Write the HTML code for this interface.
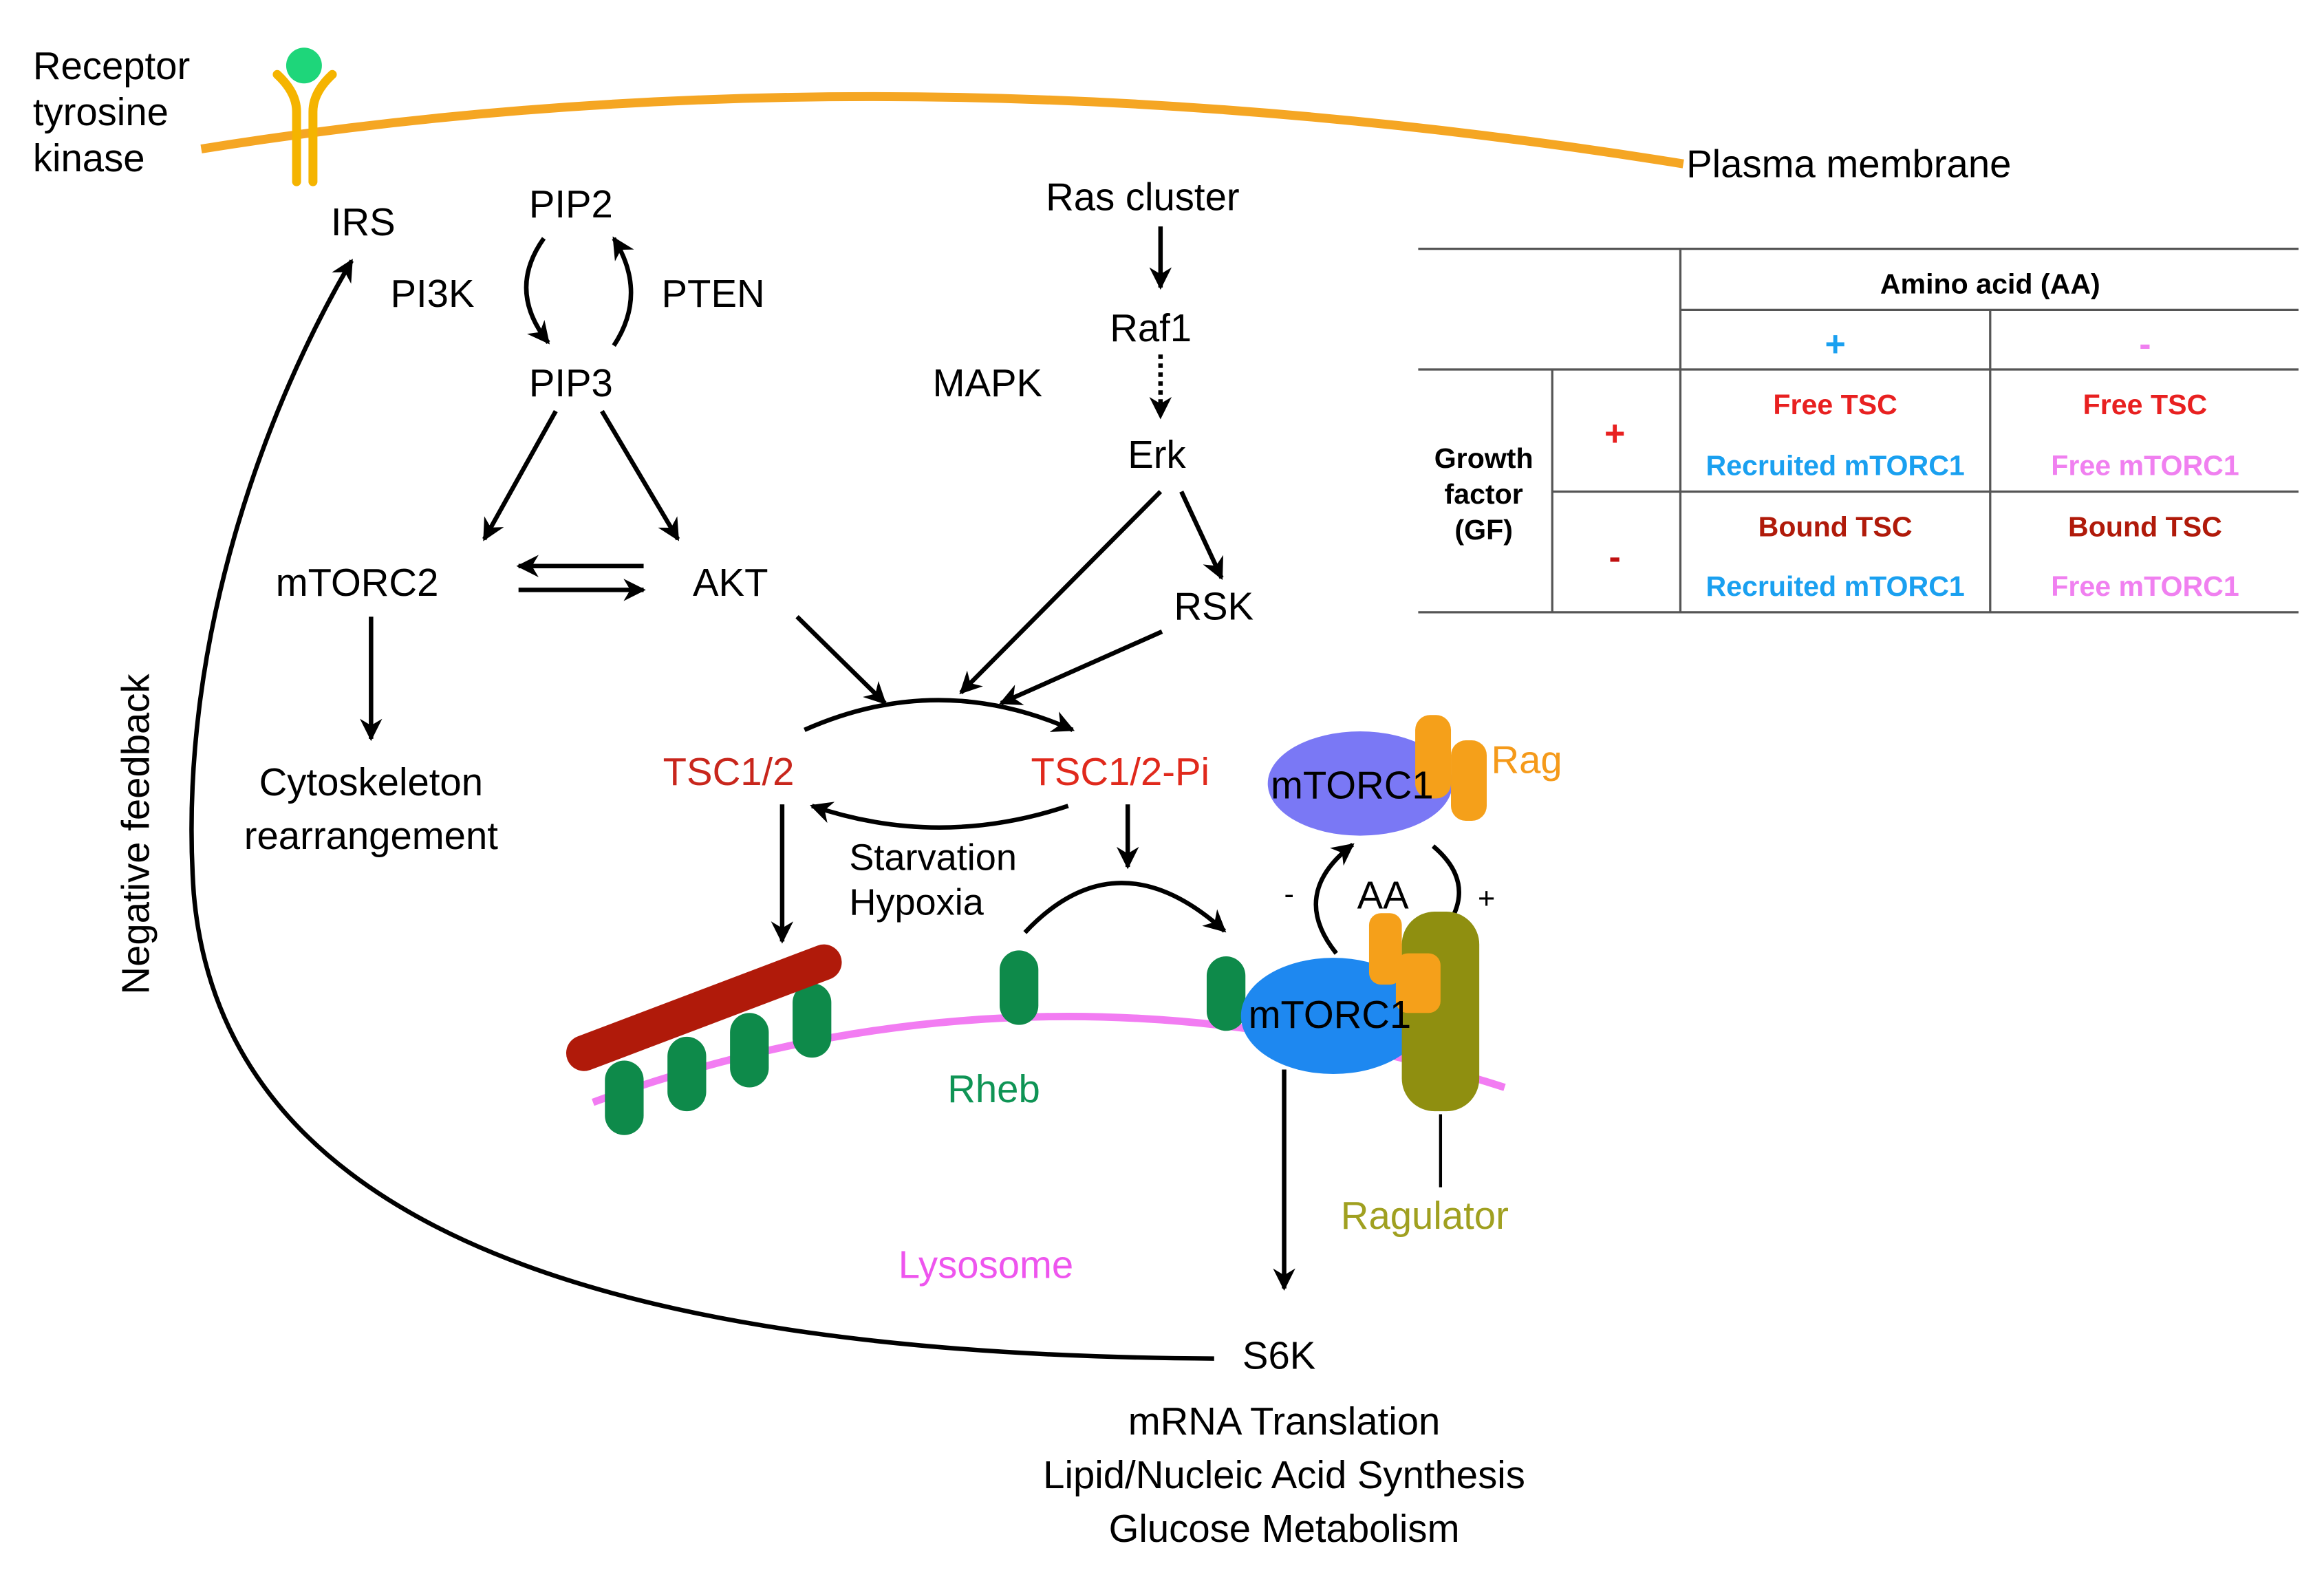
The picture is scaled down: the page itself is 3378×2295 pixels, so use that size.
<!DOCTYPE html>
<html><head><meta charset="utf-8"><style>
html,body{margin:0;padding:0;background:#fff;}
svg{display:block;}
text{font-family:"Liberation Sans",Arial,sans-serif;}
</style></head><body>
<svg width="3378" height="2295" viewBox="0 0 1560 1060" xmlns="http://www.w3.org/2000/svg">
<defs>
<marker id="a" viewBox="0 0 10 10" refX="9" refY="5" markerWidth="5" markerHeight="5" orient="auto"><path d="M0,0 L10,5 L0,10 L3,5 z" fill="#000"/></marker>
</defs>
<rect width="1560" height="1060" fill="#fff"/>
<path d="M135,100 Q600,25 1130,110" fill="none" stroke="#f5a623" stroke-width="6"/>
<g stroke="#f5b400" stroke-width="6" fill="none" stroke-linecap="round">
<path d="M199,122 L199,75 Q199,62 186,50"/><path d="M210,122 L210,75 Q210,62 223,50"/>
</g>
<circle cx="204" cy="44" r="12" fill="#1ed67a"/>
<g font-size="26" fill="#000">
<text x="22" y="53">Receptor</text><text x="22" y="84">tyrosine</text><text x="22" y="115">kinase</text>
<text x="1132" y="119">Plasma membrane</text>
<text x="222" y="158">IRS</text>
<text x="355" y="146">PIP2</text>
<text x="262" y="206">PI3K</text>
<text x="444" y="206">PTEN</text>
<text x="355" y="266">PIP3</text>
<text x="702" y="141">Ras cluster</text>
<text x="745" y="229">Raf1</text>
<text x="626" y="266">MAPK</text>
<text x="757" y="314">Erk</text>
<text x="185" y="400">mTORC2</text>
<text x="465" y="400">AKT</text>
<text x="788" y="416">RSK</text>
<text x="249" y="534" text-anchor="middle">Cytoskeleton</text>
<text x="249" y="570" text-anchor="middle">rearrangement</text>
<text x="570" y="584" font-size="25">Starvation</text>
<text x="570" y="614" font-size="25">Hypoxia</text>
<text x="911" y="610">AA</text>
<text x="862" y="607" font-size="20">-</text>
<text x="992" y="610" font-size="20">+</text>
<text x="834" y="919">S6K</text>
<text x="862" y="963" text-anchor="middle">mRNA Translation</text>
<text x="862" y="999" text-anchor="middle">Lipid/Nucleic Acid Synthesis</text>
<text x="862" y="1035" text-anchor="middle">Glucose Metabolism</text>
<text transform="translate(100,560) rotate(-90)" text-anchor="middle">Negative feedback</text>
</g>
<g font-size="26">
<text x="445" y="527" fill="#c8261c">TSC1/2</text>
<text x="692" y="527" fill="#e0291c">TSC1/2-Pi</text>
<text x="636" y="740" fill="#0f9455">Rheb</text>
<text x="603" y="858" fill="#ee55ee">Lysosome</text>
<text x="900" y="825" fill="#a0a020">Ragulator</text>
<text x="1001" y="519" fill="#f59a1a">Rag</text>
</g>
<g stroke="#000" stroke-width="3" fill="none" marker-end="url(#a)">
<path d="M815,912 C420,910 150,830 130,600 C118,430 180,270 236,175"/>
<path d="M365,160 Q340,195 368,230"/>
<path d="M412,232 Q435,197 412,160"/>
<path d="M373,276 L325,362"/>
<path d="M404,276 L455,362"/>
<path d="M432,380 L348,380"/>
<path d="M348,396 L432,396"/>
<path d="M249,414 L249,496"/>
<path d="M779,152 L779,193"/>
<path d="M779,238 L779,280" stroke-dasharray="3,3"/>
<path d="M779,330 L645,465"/>
<path d="M793,330 L820,388"/>
<path d="M780,424 L672,472"/>
<path d="M535,414 L594,472"/>
<path d="M540,490 Q630,450 720,490"/>
<path d="M717,541 Q630,570 545,541"/>
<path d="M525,540 L525,632"/>
<path d="M757,540 L757,582"/>
<path d="M688,626 Q750,560 822,625"/>
<path d="M897,640 Q865,600 908,567"/>
<path d="M962,568 Q1000,600 955,640"/>
<path d="M862,718 L862,865"/>
</g>
<line x1="967" y1="748" x2="967" y2="797" stroke="#000" stroke-width="2"/>
<path d="M398,740 Q700,630 1010,730" fill="none" stroke="#f27cf2" stroke-width="5"/>
<g fill="#0e8a4a">
<rect x="406" y="712" width="26" height="50" rx="13"/>
<rect x="448" y="696" width="26" height="50" rx="13"/>
<rect x="490" y="680" width="26" height="50" rx="13"/>
<rect x="532" y="660" width="26" height="50" rx="13"/>
<rect x="671" y="638" width="26" height="50" rx="13"/>
<rect x="810" y="642" width="26" height="50" rx="13"/>
</g>
<path d="M392,707 L553,646" stroke="#b01a0a" stroke-width="24" stroke-linecap="round"/>
<ellipse cx="895" cy="682" rx="62" ry="39" fill="#1e88f0"/>
<rect x="941" y="612" width="52" height="134" rx="22" fill="#8f8f10"/>
<g fill="#f5a01a">
<rect x="919" y="613" width="22" height="48" rx="8"/><rect x="937" y="640" width="30" height="40" rx="8"/>
</g>
<text x="838" y="690" font-size="26" fill="#000">mTORC1</text>
<ellipse cx="913" cy="526" rx="62" ry="35" fill="#7a78f5"/>
<g fill="#f5a01a">
<rect x="950" y="480" width="24" height="56" rx="10"/><rect x="974" y="497" width="24" height="54" rx="10"/>
</g>
<text x="853" y="536" font-size="26" fill="#000">mTORC1</text>
<g stroke="#555" stroke-width="1.5">
<line x1="952" y1="167" x2="1543" y2="167"/>
<line x1="1128" y1="208" x2="1543" y2="208"/>
<line x1="952" y1="248" x2="1543" y2="248"/>
<line x1="1042" y1="330" x2="1543" y2="330"/>
<line x1="952" y1="411" x2="1543" y2="411"/>
<line x1="1128" y1="167" x2="1128" y2="411"/>
<line x1="1336" y1="208" x2="1336" y2="411"/>
<line x1="1042" y1="248" x2="1042" y2="411"/>
</g>
<g font-size="19" font-weight="bold" text-anchor="middle">
<text x="1336" y="197">Amino acid (AA)</text>
<text x="1232" y="239" fill="#1aa0f0" font-size="24">+</text>
<text x="1440" y="239" fill="#f080f0" font-size="24">-</text>
<text x="996" y="314">Growth</text><text x="996" y="338">factor</text><text x="996" y="362">(GF)</text>
<text x="1084" y="299" fill="#e82020" font-size="24">+</text>
<text x="1084" y="382" fill="#c01010" font-size="24">-</text>
<text x="1232" y="278" fill="#e82020">Free TSC</text>
<text x="1440" y="278" fill="#e82020">Free TSC</text>
<text x="1232" y="319" fill="#1aa0f0">Recruited mTORC1</text>
<text x="1440" y="319" fill="#f080f0">Free mTORC1</text>
<text x="1232" y="360" fill="#b01a0a">Bound TSC</text>
<text x="1440" y="360" fill="#b01a0a">Bound TSC</text>
<text x="1232" y="400" fill="#1aa0f0">Recruited mTORC1</text>
<text x="1440" y="400" fill="#f080f0">Free mTORC1</text>
</g>
</svg>
</body></html>
